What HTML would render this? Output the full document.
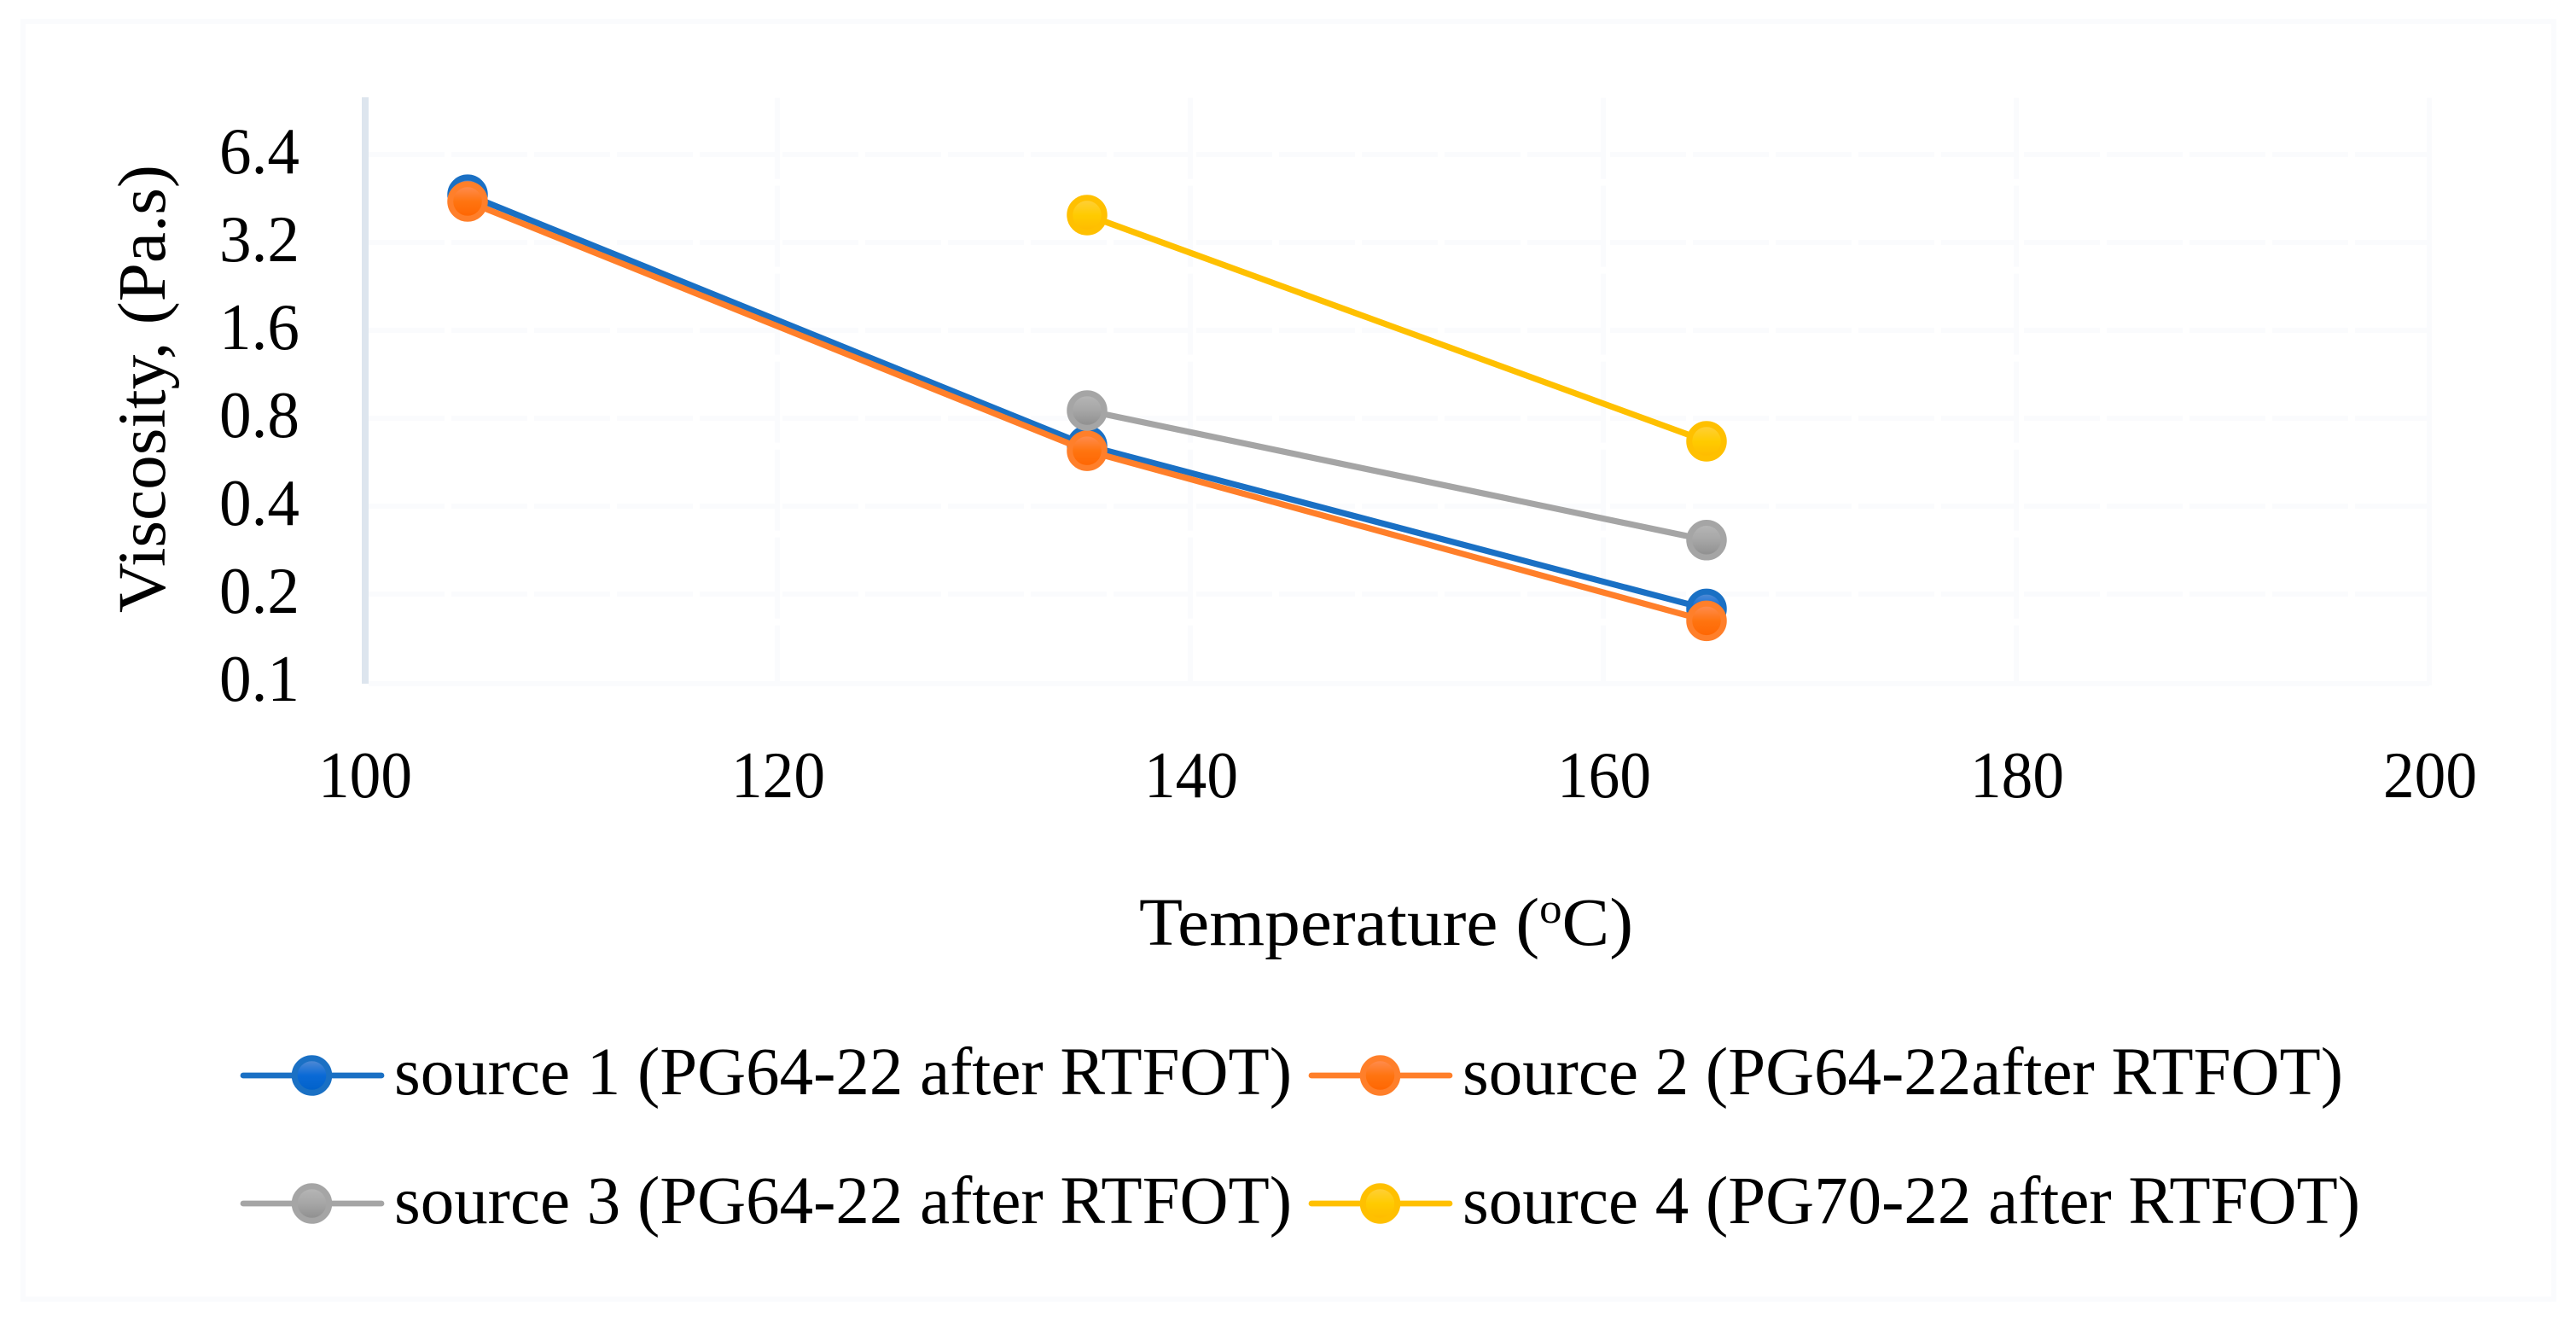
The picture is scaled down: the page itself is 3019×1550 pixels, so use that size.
<!DOCTYPE html>
<html lang="en">
<head>
<meta charset="utf-8">
<title>Viscosity vs Temperature</title>
<style>
  html, body { margin: 0; padding: 0; background: #ffffff; }
  body { width: 3019px; height: 1550px; overflow: hidden; }
  svg { display: block; }
  text { font-family: "Liberation Serif", "DejaVu Serif", serif; fill: #000000; }
</style>
</head>
<body>
<svg id="chart" xmlns="http://www.w3.org/2000/svg" width="3019" height="1550" viewBox="0 0 3019 1550">
  <defs>
    <linearGradient id="grad-blue" x1="0" y1="0" x2="0" y2="1"><stop offset="0" stop-color="#5b8fd4"/><stop offset="0.5" stop-color="#0a6ad6"/><stop offset="1" stop-color="#0060c8"/></linearGradient>
    <linearGradient id="grad-orange" x1="0" y1="0" x2="0" y2="1"><stop offset="0" stop-color="#ff9058"/><stop offset="0.5" stop-color="#ff7410"/><stop offset="1" stop-color="#ff6400"/></linearGradient>
    <linearGradient id="grad-gray" x1="0" y1="0" x2="0" y2="1"><stop offset="0" stop-color="#b8b8b8"/><stop offset="0.5" stop-color="#a6a6a6"/><stop offset="1" stop-color="#8c8c8c"/></linearGradient>
    <linearGradient id="grad-yellow" x1="0" y1="0" x2="0" y2="1"><stop offset="0" stop-color="#ffd040"/><stop offset="0.5" stop-color="#ffcb00"/><stop offset="1" stop-color="#ffb900"/></linearGradient>
  </defs>
  <rect x="27" y="25" width="2966" height="1497" fill="none" stroke="#fafbfd" stroke-width="6"/>
  <g id="grid"></g>
  <rect x="424" y="114" width="8" height="687" fill="#dde5ee"/>
  <g id="y-ticks"></g>
  <g id="x-ticks"></g>
  <text transform="translate(193 718) rotate(-90)" font-size="79" textLength="525" lengthAdjust="spacingAndGlyphs">Viscosity, (Pa.s)</text>
  <text x="1335" y="1107" font-size="79" textLength="579" lengthAdjust="spacingAndGlyphs">Temperature (<tspan font-size="50" dy="-26">o</tspan><tspan dy="26">C)</tspan></text>
  <g id="series"></g>
  <g id="legend"></g>
</svg>
<script>
// Chart data
const temperatures = [105, 135, 165];
const source1Values = [4.66, 0.645, 0.178];
const source2Values = [4.42, 0.619, 0.162];
const source3Values = [null, 0.85, 0.306];
const source4Values = [null, 3.97, 0.667];
const xTickLabels = [100, 120, 140, 160, 180, 200];
const yTickLabels = [0.1, 0.2, 0.4, 0.8, 1.6, 3.2, 6.4];
const seriesNames = [
  'source 1 (PG64-22 after RTFOT)',
  'source 2 (PG64-22after RTFOT)',
  'source 3 (PG64-22 after RTFOT)',
  'source 4 (PG70-22 after RTFOT)'
];

const NS = 'http://www.w3.org/2000/svg';
const seriesValues = [source1Values, source2Values, source3Values, source4Values];
const seriesKeys = ['source-1', 'source-2', 'source-3', 'source-4'];
const seriesStroke = ['#1a70c4', '#ff7f2a', '#a5a5a5', '#ffc000'];
const seriesFill = ['grad-blue', 'grad-orange', 'grad-gray', 'grad-yellow'];

const X_ORIGIN = 427, X_PER_UNIT = 24.2, X_MIN = 100;
const Y_BOTTOM = 799, Y_PER_DOUBLING = 103, Y_MIN = 0.1, Y_TOP = 10;
function xScale(t) { return X_ORIGIN + (t - X_MIN) * X_PER_UNIT; }
function yScale(v) { return Y_BOTTOM - Y_PER_DOUBLING * Math.log2(v / Y_MIN); }

function make(tag, attrs, parent) {
  const el = document.createElementNS(NS, tag);
  for (const k in attrs) el.setAttribute(k, attrs[k]);
  parent.appendChild(el);
  return el;
}

// Gridlines and axis baseline
const gridGroup = document.getElementById('grid');
const plotLeft = xScale(100), plotRight = xScale(200), plotTop = yScale(Y_TOP);
for (const v of yTickLabels) {
  const isBase = v === Y_MIN;
  const el = make('line', {
    x1: plotLeft + 5, x2: plotRight, y1: yScale(v) + (isBase ? 2 : 0), y2: yScale(v) + (isBase ? 2 : 0),
    stroke: '#fafbfd', 'stroke-width': 6, 'stroke-dasharray': isBase ? 'none' : '89 8'
  }, gridGroup);
  
  
}
for (const t of xTickLabels.slice(1)) {
  const el = make('line', {
    x1: xScale(t), x2: xScale(t), y1: plotTop, y2: yScale(Y_MIN) + 4,
    stroke: '#fafbfd', 'stroke-width': 6, 'stroke-dasharray': t === 200 ? 'none' : '95 8'
  }, gridGroup);
  
  
}

// Tick labels
const yTickGroup = document.getElementById('y-ticks');
for (const v of yTickLabels) {
  const el = make('text', {
    x: 257, y: yScale(v) + 22, 'font-size': 77, textLength: 94, lengthAdjust: 'spacingAndGlyphs'
  }, yTickGroup);
  el.textContent = v.toFixed(1);
  
  
}
const xTickGroup = document.getElementById('x-ticks');
for (const t of xTickLabels) {
  const el = make('text', {
    x: xScale(t) - 54, y: 934, 'font-size': 77, textLength: 110, lengthAdjust: 'spacingAndGlyphs'
  }, xTickGroup);
  el.textContent = String(t);
  
  
}

function drawMarker(cx, cy, i, parent, name) {
  const el = make('circle', {
    cx: cx, cy: cy, r: 20.25, fill: 'url(#' + seriesFill[i] + ')',
    stroke: seriesStroke[i], 'stroke-width': 7
  }, parent);
  
  
}

// Series: lines first, then markers, in original order
const seriesGroup = document.getElementById('series');
seriesValues.forEach(function (values, i) {
  const g = make('g', {}, seriesGroup);
  
  
  const pts = [];
  values.forEach(function (v, j) {
    if (v !== null) pts.push([xScale(temperatures[j]), yScale(v), temperatures[j]]);
  });
  const line = make('polyline', {
    points: pts.map(function (p) { return p[0] + ',' + p[1]; }).join(' '),
    fill: 'none', stroke: seriesStroke[i], 'stroke-width': 7.2, 'stroke-linejoin': 'round'
  }, g);
  
  
  pts.forEach(function (p) {
    drawMarker(p[0], p[1], i, g, seriesKeys[i] + '-point-' + p[2]);
  });
});

// Legend
const legendGroup = document.getElementById('legend');
const legendLineX = [285, 1537];
const legendTextX = [462, 1714];
const legendLineY = [1260, 1410];
const legendBaseY = [1282, 1433];
const legendTextW = [1052, 1032, 1052, 1052];
seriesNames.forEach(function (name, i) {
  const col = i % 2, row = Math.floor(i / 2);
  const g = make('g', {}, legendGroup);
  
  
  const ln = make('line', {
    x1: legendLineX[col], x2: legendLineX[col] + 162, y1: legendLineY[row], y2: legendLineY[row],
    stroke: seriesStroke[i], 'stroke-width': 6.8, 'stroke-linecap': 'round'
  }, g);
  
  
  drawMarker(legendLineX[col] + 80.5, legendLineY[row], i, g, 'legend-marker-' + seriesKeys[i]);
  const tx = make('text', {
    x: legendTextX[col], y: legendBaseY[row], 'font-size': 79,
    textLength: legendTextW[i], lengthAdjust: 'spacingAndGlyphs'
  }, g);
  tx.textContent = name;
  
  
});
</script>
</body>
</html>
